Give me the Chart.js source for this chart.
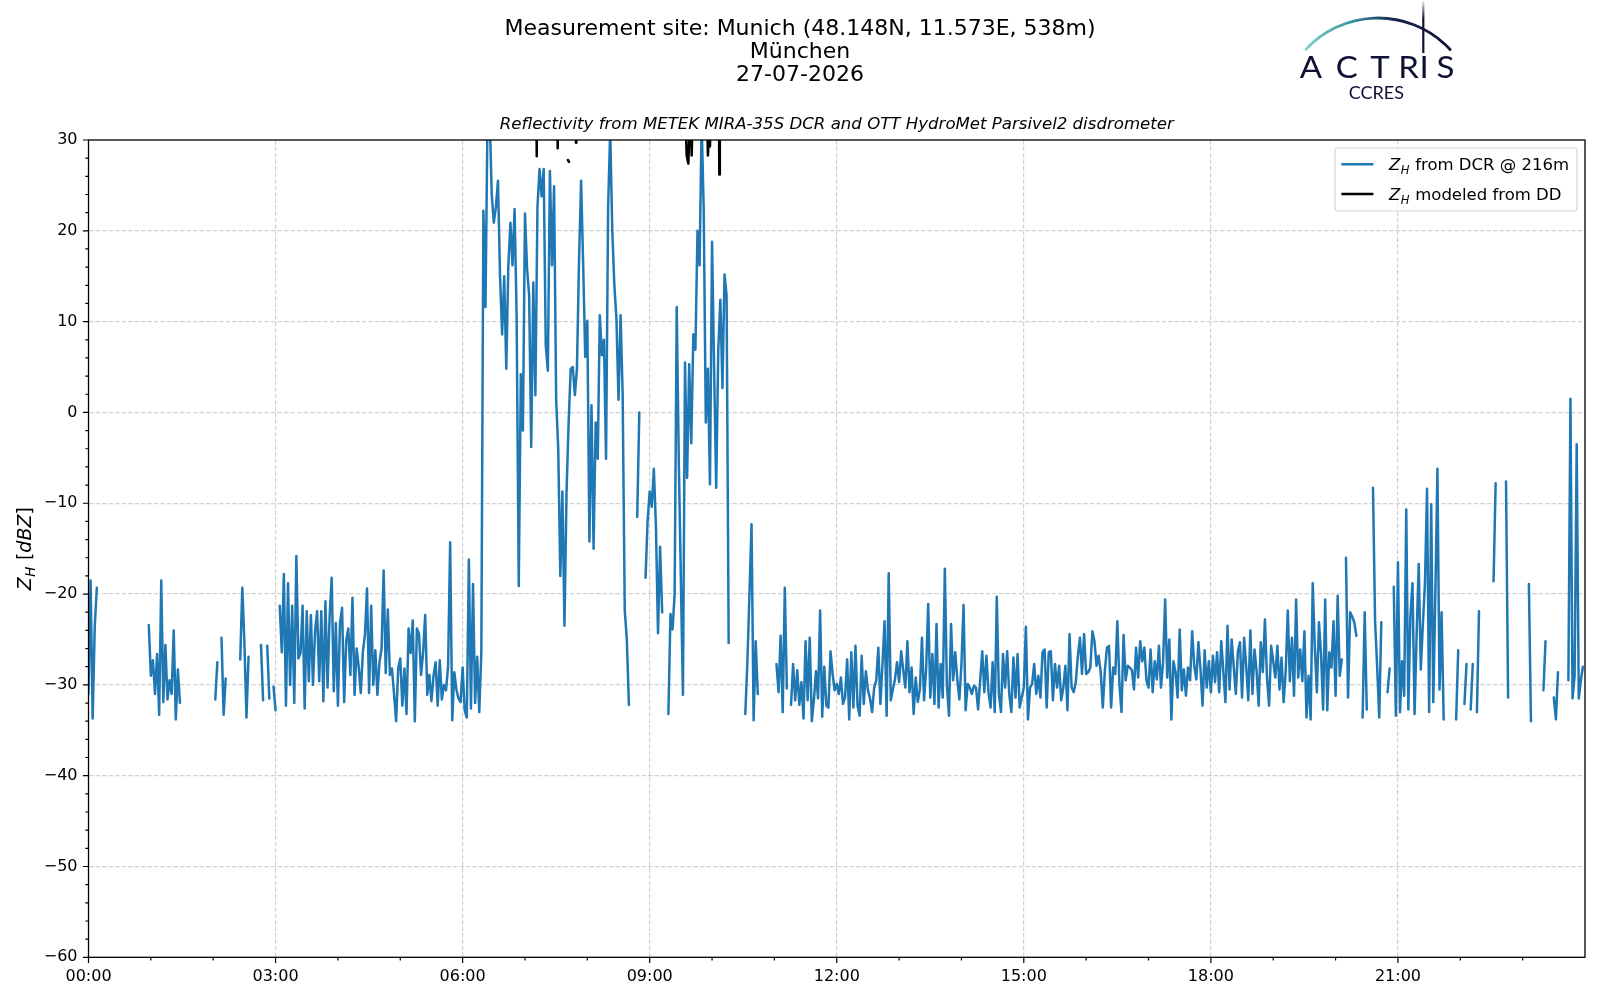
<!DOCTYPE html>
<html>
<head>
<meta charset="utf-8">
<title>Reflectivity - Munich</title>
<script src="https://cdn.jsdelivr.net/npm/chart.js@4.4.0/dist/chart.umd.min.js"></script>
<style>
  html, body { margin: 0; padding: 0; background: #fff; }
  #wrap { position: relative; width: 1600px; height: 1000px; }
</style>
</head>
<body>
<div id="wrap"><canvas id="zhChart" width="1600" height="1000"></canvas></div>
<script>
const _ = null;

// DCR reflectivity @ 216m, one sample every 2 minutes (30 per hour), dBZ
const STEP_MIN = 2;
const dcrZh = [
  // 00:00
  -31, -18.5, -33.7, -23.6, -19.3, _, _, _, _, _, _, _, _, _, _, _, _, _, _, _, _, _, _, _, _, _, _, _, _, -23.4,
  // 01:00
  -29, -27.3, -31, -26.6, -33.3, -18.5, -31.9, -25.6, -31.6, -29.5, -31, -24, -33.8, -28.3, -32, _, _, _, _, _, _, _, _, _, _, _, _, _, _, _,
  // 02:00
  _, -31.6, -27.5, _, -24.8, -33.3, -29.3, _, _, _, _, _, _, -27.2, -19.3, -25.3, -33.6, -26.9, _, _, _, _, _, -25.6, -31.7, _, -25.7, -31.5, _, -30.2,
  // 03:00
  -32.8, _, -21.3, -26.4, -17.8, -32.3, -18.8, -30, -21.3, -32, -15.8, -27.1, -26.5, -21.3, -32.6, -21.9, -29.6, -22.3, -30, -24.1, -21.9, -29.6, -21.9, -31.8, -20.8, -30.3, -22.5, -18.2, -30.7, -23.2,
  // 04:00
  -32.3, -23.2, -21.5, -31.9, -25.1, -23.8, -28.9, -20.4, -31.1, -26, -28, -30.9, -26.4, -24.5, -19.4, -30.9, -21.3, -30, -26.2, -31.1, -27.5, -26, -17.4, -28.7, -21.7, -28.9, -28.2, -31, -34, -28.2,
  // 05:00
  -27.1, -32.3, -28.2, -33.2, -23.8, -26.5, -22.9, -34, -23.8, -24.4, -28.9, -26.4, -22.3, -31.1, -28.9, -31.8, -29, -27.5, -32.3, -27.3, -31.6, -30, -30.6, -28, -14.3, -33.9, -28.6, -30.5, -31.5, -31.9,
  // 06:00
  -28.1, -32.8, -33.6, -16.2, -32.6, -18.9, -32, -26.9, -33, -26.4, 22.2, 11.6, 33, 33, 24, 20.9, 22.6, 25.5, 15, 8.6, 15, 4.8, 16.2, 20.9, 16.2, 22.4, 10.3, -19.1, 4.2, -2,
  // 07:00
  21.9, 15.8, 12.9, -3.8, 14.3, 1.9, 22.6, 26.8, 23.8, 26.8, 7.4, 4.6, 26.6, 16.2, 24.9, 1.4, -4, -18, -8.7, -23.5, -8.7, -1.1, 4.8, 5, 1.9, 4.8, 16.7, 25.5, 16.2, 6.1,
  // 08:00
  10.1, -14.2, 0.8, -15, -1.1, -5.1, 10.7, 6.3, 8, -5.1, 22.6, 31, 20, 14, 10.3, 1.4, 10.7, 1.9, -21.8, -25, -32.2, _, _, _, -11.5, 0, _, _, -18.2, -11.9,
  // 09:00
  -8.7, -10.4, -6.2, -12.5, -24.3, -14.8, -22, _, _, -33.2, -22.2, -23.9, -20, 11.6, -5.3, -18.4, -31.1, 5.5, -7.2, 5.3, -3.4, 8.6, 6.9, 20, 16.2, 32, 22.2, -1.1, 4.8, -7.9,
  // 10:00
  18.8, 4.8, -8.3, 6.9, 12.4, 2.7, 15.2, 12.9, -25.4, _, _, _, _, _, _, _, -33.2, -27.5, -20, -12.3, -33.9, -25.2, -31, _, _, _, _, _, _, _,
  // 11:00
  _, -27.7, -30.8, -24.6, -33, -19.3, -30.4, _, -32.2, -27.7, -31.7, -28.4, -32.2, -29.7, -33.7, -25.2, -31.7, -24.8, -34, -31.7, -28.5, -31.5, -21.8, -33.5, -28, -32.3, -32.5, -26.3, -28.8, -30.6,
  // 12:00
  -29.9, -31, -29.2, -32.1, -31.4, -27.2, -33.8, -26.4, -32.5, -25.7, -32.3, -33.4, -26.8, -32.1, -28.5, -30.6, -31.5, -33, -30.3, -29.5, -25.9, -32.1, -27.7, -23, -33.4, -17.7, -31.7, -30.5, -29.4, -27.5,
  // 13:00
  -29.7, -26.3, -28.4, -30.3, -25.2, -30.8, -28.1, -33.2, -29.2, -31.9, -30.5, -24.8, -31.7, -28.3, -21.1, -31.4, -26.6, -32.1, -23.3, -32.5, -27.7, -31.4, -17.2, -30.1, -33.4, -23.3, -29.5, -26.4, -29.4, -31.6,
  // 14:00
  -27.7, -21.2, -32.8, -29.9, -30.3, -31, -30.1, -30.3, -32.7, -29.5, -26.3, -30.8, -26.8, -30.8, -32.5, -27.5, -33, -20.3, -31, -33, -26.6, -30.3, -26.3, -31, -33, -27, -31.4, -26.6, -32.5, -31.4,
  // 15:00
  -30.3, -23.6, -33.8, -30.3, -29.9, -27.7, -31, -29, -31.4, -26.4, -26.1, -32.5, -26.4, -26.3, -31.7, -27.7, -30.3, -27.9, -31.7, -30.3, -27.9, -32.8, -24.4, -30.3, -30.8, -29.7, -26.8, -24.8, -28.8, -24.4,
  // 16:00
  -28.8, -28.6, -28.1, -24.1, -25.2, -27.9, -26.8, -28.6, -32.5, -28.4, -25.9, -25.7, -32.5, -28.1, -28.8, -23, -29.9, -33, -24.5, -29.5, -27.9, -28.1, -28.4, -30.5, -25.9, -29.2, -25.2, -27.4, -25.9, -29.5,
  // 17:00
  -30.3, -26.1, -30.8, -27.4, -29.4, -25.7, -30.3, -27.5, -20.6, -29.2, -25, -33.8, -27.4, -28.6, -31.4, -23.9, -30.6, -28.3, -31.2, -28.1, -29.5, -24.1, -27.9, -29.4, -25.3, -28.3, -32.3, -26.2, -30.3, -27.4,
  // 18:00
  -30.8, -26.8, -29.7, -26.4, -30.8, -25.2, -28.5, -31.9, -23.5, -30.5, -25, -28, -31, -26.3, -25.3, -31.4, -24.8, -28, -31.7, -24, -31, -26.1, -28.5, -32.3, -25.3, -28.6, -22.8, -29.2, -32.3, -25.7,
  // 19:00
  -27.4, -29.2, -25.7, -30.5, -27, -31.9, -28.5, -21.8, -29.6, -24.8, -31.2, -20.6, -29.2, -26.1, -29.6, -24.1, -33.6, -29, -33.8, -18.8, -25.9, -30.8, -23.1, -26.6, -32.7, -20.6, -32.8, -26.4, -28.1, -23,
  // 20:00
  -31.2, -20.2, -29, -27.2, _, -16, -31.4, -22, -22.5, -23.1, -24.6, _, _, -33.6, -22, -32.7, _, _, -8.3, -23, -28, -33.6, -23.1, _, _, -30.8, -28.2, _, -19.2, -33.4,
  // 21:00
  -16.5, -33, -27.4, -31.2, -10.7, -32.7, -22.4, -18.8, -33.2, -24.4, -16.7, -28.3, -23.3, -18.8, -8.4, -33, -10.1, -31.9, -20, -6.2, -30.5, -22, -33.8, _, _, _, _, _, -33.8, -26.2,
  // 22:00
  _, _, -32.1, -27.7, _, -32.7, -27.7, _, -33, -21.9, _, _, _, _, _, _, -18.6, -7.8, _, _, _, _, -7.6, -31.4, _, _, _, _, _, _,
  // 23:00
  _, _, _, -18.9, -34, _, _, _, _, _, -30.6, -25.2, _, _, _, -31.4, -33.8, -28.6, _, _, _, _, -29.5, 1.5, -31.5, -29, -3.5, -31.5, -29.5, -28
];

// Reflectivity modeled from the disdrometer (mostly above the 30 dBZ top of the axis)
const ddMinutes = [400, 430.8, 431.3, 431.8, 451, 451.5, 452, 460, 461.3, 462.3, 463,
  468.8, 469.1, 469.4, 574, 575.6, 577.2, 579, 580.4, 581.5, 595, 596, 597, 598, 599,
  606.5, 607, 607.5, 615];
const ddZh = [40, 36, 28.2, 36, 36, 29.1, 36, _, 27.8, 27.6, _,
  35, 29.7, 35, 34, 28.3, 27.4, 34, 28.3, 34, 35, 28.3, 30.5, 29.3, 35,
  36, 26.2, 36, 40];

const timeTickLabels = ['00:00', '03:00', '06:00', '09:00', '12:00', '15:00', '18:00', '21:00'];
const zhTickLabels = [-60, -50, -40, -30, -20, -10, 0, 10, 20, 30];

const FONT = '"DejaVu Sans", sans-serif';
const NAVY = '#0e1033';

const dcrPoints = dcrZh.map((v, i) => ({ x: i * STEP_MIN, y: v }));
const ddPoints = ddMinutes.map((m, i) => ({ x: m, y: ddZh[i] }));

// Z with subscript H, matplotlib mathtext style
function drawZH(ctx, x, y, size) {
    ctx.font = `italic ${size}px ${FONT}`;
    ctx.fillText('Z', x, y);
    let w = ctx.measureText('Z').width;
    const sub = size * 0.7;
    ctx.font = `italic ${sub}px ${FONT}`;
    ctx.fillText('H', x + w + 0.5, y + size * 0.22);
    w += ctx.measureText('H').width + 1;
    return w;
}

const decorations = {
    id: 'decorations',
    afterDraw(chart) {
        const { ctx, chartArea: a, scales } = chart;
        const xs = scales.x, ys = scales.y;
        ctx.save();
        ctx.fillStyle = '#000';
        ctx.strokeStyle = '#000';

        // tick marks, major and minor
        ctx.lineWidth = 1.2;
        ctx.beginPath();
        for (let v = -60; v <= 30; v += 2) {
            const py = ys.getPixelForValue(v);
            const len = v % 10 === 0 ? 5.6 : 3.2;
            ctx.moveTo(a.left - len, py);
            ctx.lineTo(a.left, py);
        }
        for (let m = 0; m < 1440; m += 60) {
            const px = xs.getPixelForValue(m);
            const len = m % 180 === 0 ? 5.6 : 3.2;
            ctx.moveTo(px, a.bottom);
            ctx.lineTo(px, a.bottom + len);
        }
        ctx.stroke();

        // axes frame
        ctx.lineWidth = 1.3;
        ctx.strokeRect(a.left, a.top, a.right - a.left, a.bottom - a.top);

        // titles
        ctx.textAlign = 'center';
        ctx.textBaseline = 'alphabetic';
        ctx.font = `22px ${FONT}`;
        ctx.fillText('Measurement site: Munich (48.148N, 11.573E, 538m)', 800, 34.5);
        ctx.fillText('München', 800, 57.5);
        ctx.fillText('27-07-2026', 800, 81);
        ctx.font = `italic 16.6px ${FONT}`;
        ctx.fillText('Reflectivity from METEK MIRA-35S DCR and OTT HydroMet Parsivel2 disdrometer',
            (a.left + a.right) / 2, 129);

        // y axis label
        ctx.save();
        ctx.translate(31, (a.top + a.bottom) / 2);
        ctx.rotate(-Math.PI / 2);
        ctx.textAlign = 'left';
        const ls = 19;
        ctx.font = `italic ${ls}px ${FONT}`;
        const wZ = ctx.measureText('Z').width;
        ctx.font = `italic ${ls * 0.7}px ${FONT}`;
        const wH = ctx.measureText('H').width + 1;
        ctx.font = `${ls}px ${FONT}`;
        const wOpen = ctx.measureText(' [').width, wClose = ctx.measureText(']').width;
        ctx.font = `italic ${ls}px ${FONT}`;
        const wUnit = ctx.measureText('dBZ').width;
        let lx = -(wZ + wH + wOpen + wUnit + wClose) / 2;
        lx += drawZH(ctx, lx, 0, ls);
        ctx.font = `${ls}px ${FONT}`;
        ctx.fillText(' [', lx, 0); lx += wOpen;
        ctx.font = `italic ${ls}px ${FONT}`;
        ctx.fillText('dBZ', lx, 0); lx += wUnit;
        ctx.font = `${ls}px ${FONT}`;
        ctx.fillText(']', lx, 0);
        ctx.restore();

        // legend
        const bx = 1335, by = 148, bw = 242, bh = 63;
        ctx.beginPath();
        ctx.roundRect(bx, by, bw, bh, 3);
        ctx.fillStyle = 'rgba(255,255,255,0.8)';
        ctx.fill();
        ctx.strokeStyle = '#d4d4d4';
        ctx.lineWidth = 1.2;
        ctx.stroke();
        const rows = [
            { color: '#1f77b4', text: ' from DCR @ 216m', y: 164.3 },
            { color: '#000000', text: ' modeled from DD', y: 194 }
        ];
        ctx.textAlign = 'left';
        rows.forEach(r => {
            ctx.strokeStyle = r.color;
            ctx.lineWidth = 2.5;
            ctx.beginPath();
            ctx.moveTo(bx + 6.4, r.y);
            ctx.lineTo(bx + 38.4, r.y);
            ctx.stroke();
            ctx.fillStyle = '#000';
            const tx = bx + 54, base = r.y + 6;
            const w = drawZH(ctx, tx, base, 16.5);
            ctx.font = `16.5px ${FONT}`;
            ctx.fillText(r.text, tx + w, base);
        });

        // ACTRIS / CCRES logo
        const arcGrad = ctx.createLinearGradient(1306, 0, 1452, 0);
        arcGrad.addColorStop(0, '#7fd0c8');
        arcGrad.addColorStop(0.3, '#3a97a0');
        arcGrad.addColorStop(0.6, '#17264f');
        arcGrad.addColorStop(1, NAVY);
        ctx.strokeStyle = arcGrad;
        ctx.lineWidth = 2.8;
        ctx.lineCap = 'round';
        ctx.beginPath();
        ctx.arc(1378, 116.5, 98.5, -2.392, -0.749);
        ctx.stroke();

        const vGrad = ctx.createLinearGradient(0, 1, 0, 53);
        vGrad.addColorStop(0, 'rgba(14,16,51,0.1)');
        vGrad.addColorStop(0.35, NAVY);
        vGrad.addColorStop(1, NAVY);
        ctx.strokeStyle = vGrad;
        ctx.lineWidth = 2.2;
        ctx.lineCap = 'butt';
        ctx.beginPath();
        ctx.moveTo(1423.3, 1);
        ctx.lineTo(1423.3, 53);
        ctx.stroke();

        ctx.fillStyle = NAVY;
        ctx.textAlign = 'center';
        const letters = [['A', 1310.8], ['C', 1346.7], ['T', 1380], ['R', 1408.5], ['I', 1424], ['S', 1445.5]];
        letters.forEach(([ch, cx]) => {
            ctx.save();
            ctx.translate(cx, 78.3);
            ctx.scale(1.1, 1);
            ctx.font = '400 30px Lato, sans-serif';
            ctx.fillText(ch, 0, 0);
            ctx.restore();
        });
        ctx.font = '18px Lato, sans-serif';
        ctx.fillText('CCRES', 1376.3, 99.3);

        ctx.restore();
    }
};

new Chart(document.getElementById('zhChart').getContext('2d'), {
    type: 'line',
    data: {
        datasets: [
            {
                label: 'Z_H from DCR @ 216m',
                data: dcrPoints,
                borderColor: '#1f77b4',
                borderWidth: 2.5,
                pointRadius: 0,
                borderJoinStyle: 'round',
                borderCapStyle: 'round',
                spanGaps: false,
                clip: 0,
                order: 1
            },
            {
                label: 'Z_H modeled from DD',
                data: ddPoints,
                borderColor: '#000000',
                borderWidth: 2.5,
                pointRadius: 0,
                borderJoinStyle: 'round',
                borderCapStyle: 'round',
                spanGaps: false,
                clip: 0,
                order: 0
            }
        ]
    },
    options: {
        responsive: false,
        animation: false,
        events: [],
        layout: { padding: { top: 140, right: 15, bottom: 0, left: 0 } },
        plugins: {
            legend: { display: false },
            title: { display: false },
            tooltip: { enabled: false }
        },
        scales: {
            x: {
                type: 'linear',
                min: 0,
                max: 1440,
                afterFit: s => { s.height = 42.7; },
                grid: {
                    drawTicks: false,
                    lineWidth: 1.2,
                    color: c => (c.tick && c.tick.value % 180 === 0 && c.tick.value > 0 && c.tick.value < 1440)
                        ? '#d2d2d2' : 'rgba(0,0,0,0)'
                },
                border: { display: false, dash: [4.5, 2] },
                ticks: {
                    stepSize: 60,
                    autoSkip: false,
                    maxRotation: 0,
                    padding: 10,
                    color: '#000',
                    font: { family: FONT, size: 16 },
                    callback: v => (v % 180 === 0 && v < 1440) ? timeTickLabels[v / 180] : ''
                }
            },
            y: {
                min: -60,
                max: 30,
                afterFit: s => { s.width = 88.5; },
                grid: {
                    drawTicks: false,
                    lineWidth: 1.2,
                    color: c => (c.tick && zhTickLabels.includes(c.tick.value) && c.tick.value > -60 && c.tick.value < 30)
                        ? '#d2d2d2' : 'rgba(0,0,0,0)'
                },
                border: { display: false, dash: [4.5, 2] },
                ticks: {
                    stepSize: 2,
                    autoSkip: false,
                    padding: 11,
                    color: '#000',
                    font: { family: FONT, size: 16 },
                    callback: v => zhTickLabels.includes(v) ? String(v).replace('-', '\u2212') : ''
                }
            }
        }
    },
    plugins: [decorations]
});
</script>
</body>
</html>
